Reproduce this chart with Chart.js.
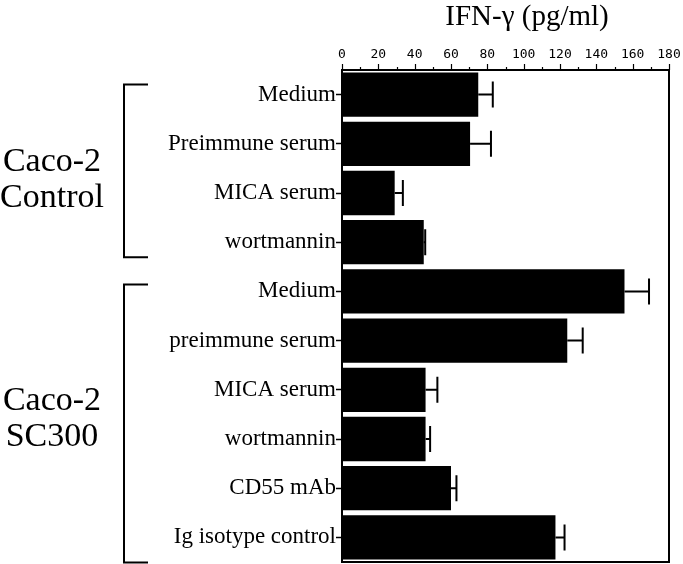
<!DOCTYPE html>
<html lang="en">
  <head>
    <meta charset="UTF-8">
    <title>IFN-gamma chart</title>
    <style>
      html, body { margin: 0; padding: 0; background: #fff; }
      #wrap { width: 683px; height: 564px; }
    </style>
  </head>
  <body>
    <div id="wrap"><canvas id="myChart" width="683" height="564"></canvas></div>

    <script src="https://cdn.jsdelivr.net/npm/chart.js"></script>
    <script>
      // data
      const labels = ['Medium', 'Preimmune serum', 'MICA serum', 'wortmannin',
                      'Medium', 'preimmune serum', 'MICA serum', 'wortmannin', 'CD55 mAb', 'Ig isotype control'];
      const values = [75, 70.5, 29, 45, 155.5, 124, 46, 46, 60, 117.5];
      const errors = [8, 11.5, 4.5, 0.8, 13.5, 8.5, 6.5, 2.5, 3, 5];
      const xTicks = [0, 20, 40, 60, 80, 100, 120, 140, 160, 180];
      const groupNames = [['Caco-2', 'Control'], ['Caco-2', 'SC300']];
      const groupStart = [0, 4];
      const groupEnd = [3, 9];
      const axisTitle = 'IFN-γ (pg/ml)';

      const serif = '"Liberation Serif", "Times New Roman", serif';

      // error bars, box, ticks, brackets, titles
      const extras = {
        id: 'extras',
        afterDatasetsDraw(chart) {
          const c = chart.ctx, a = chart.chartArea;
          const x = chart.scales.x, y = chart.scales.y;
          c.save();
          c.strokeStyle = '#000';
          c.lineWidth = 2;
          values.forEach((v, i) => {
            const yc = y.getPixelForValue(i);
            const x0 = x.getPixelForValue(v), x1 = x.getPixelForValue(v + errors[i]);
            c.beginPath();
            c.moveTo(x0, yc); c.lineTo(x1, yc);
            c.moveTo(x1, yc - 13); c.lineTo(x1, yc + 13);
            c.stroke();
          });
          // frame
          c.strokeRect(a.left, a.top, a.right - a.left, a.bottom - a.top);

          // top axis ticks: long at labelled values, short between
          c.lineWidth = 1.2;
          x.ticks.forEach((t) => {
            const px = Math.round(x.getPixelForValue(t.value)) + 0.5;
            const len = xTicks.includes(t.value) ? 6 : 3;
            c.beginPath();
            c.moveTo(px, a.top); c.lineTo(px, a.top - len);
            c.stroke();
          });

          // brackets + group names (ends sit a little differently in each group)
          c.lineWidth = 2;
          const topOff = [-10, -7], botOff = [15, 25], textOff = [9, -4];
          groupNames.forEach((g, k) => {
            const t = y.getPixelForValue(groupStart[k]) + topOff[k];
            const b = y.getPixelForValue(groupEnd[k]) + botOff[k];
            c.beginPath();
            c.moveTo(148, t); c.lineTo(124, t); c.lineTo(124, b); c.lineTo(148, b);
            c.stroke();
            const mid = (t + b) / 2 + textOff[k];
            c.fillStyle = '#000';
            c.font = '34px ' + serif;
            c.textAlign = 'center';
            c.textBaseline = 'middle';
            c.fillText(g[0], 52, mid - 18);
            c.fillText(g[1], 52, mid + 18);
          });

          // axis title
          c.font = '29px ' + serif;
          c.textAlign = 'center';
          c.textBaseline = 'middle';
          c.fillText(axisTitle, 527, 17);
          c.restore();
        }
      };

      const ctx = document.getElementById('myChart');
      new Chart(ctx, {
        type: 'bar',
        data: {
          labels: labels,
          datasets: [{
            data: values,
            backgroundColor: '#000',
            borderWidth: 0,
            barPercentage: 0.9,
            categoryPercentage: 1.0
          }]
        },
        options: {
          indexAxis: 'y',
          responsive: false,
          animation: false,
          layout: { padding: { top: 0, right: 14, bottom: 2, left: 0 } },
          plugins: { legend: { display: false }, tooltip: { enabled: false } },
          scales: {
            x: {
              position: 'top',
              min: 0, max: 180,
              afterBuildTicks: (s) => {
                const t = [];
                for (let v = 0; v <= 180; v += 10) t.push({ value: v });
                s.ticks = t;
              },
              afterFit: (s) => { s.height = 70; s.paddingLeft = 0; s.paddingRight = 0; },
              ticks: {
                autoSkip: false,
                maxRotation: 0,
                padding: 8,
                color: '#000',
                font: { family: '"DejaVu Sans Mono", monospace', size: 13 },
                callback: (v) => xTicks.includes(v) ? String(v) : ''
              },
              grid: { drawOnChartArea: false, drawTicks: false },
              border: { color: '#000', width: 2 }
            },
            y: {
              afterFit: (s) => { s.width = 342; s.paddingTop = 0; s.paddingBottom = 0; },
              ticks: {
                padding: 0,
                color: '#000',
                font: { family: serif, size: 23 }
              },
              grid: { drawOnChartArea: false, offset: false, tickLength: 6, tickColor: '#000', tickWidth: 1.5 },
              border: { color: '#000', width: 2 }
            }
          }
        },
        plugins: [extras]
      });
    </script>
  </body>
</html>
